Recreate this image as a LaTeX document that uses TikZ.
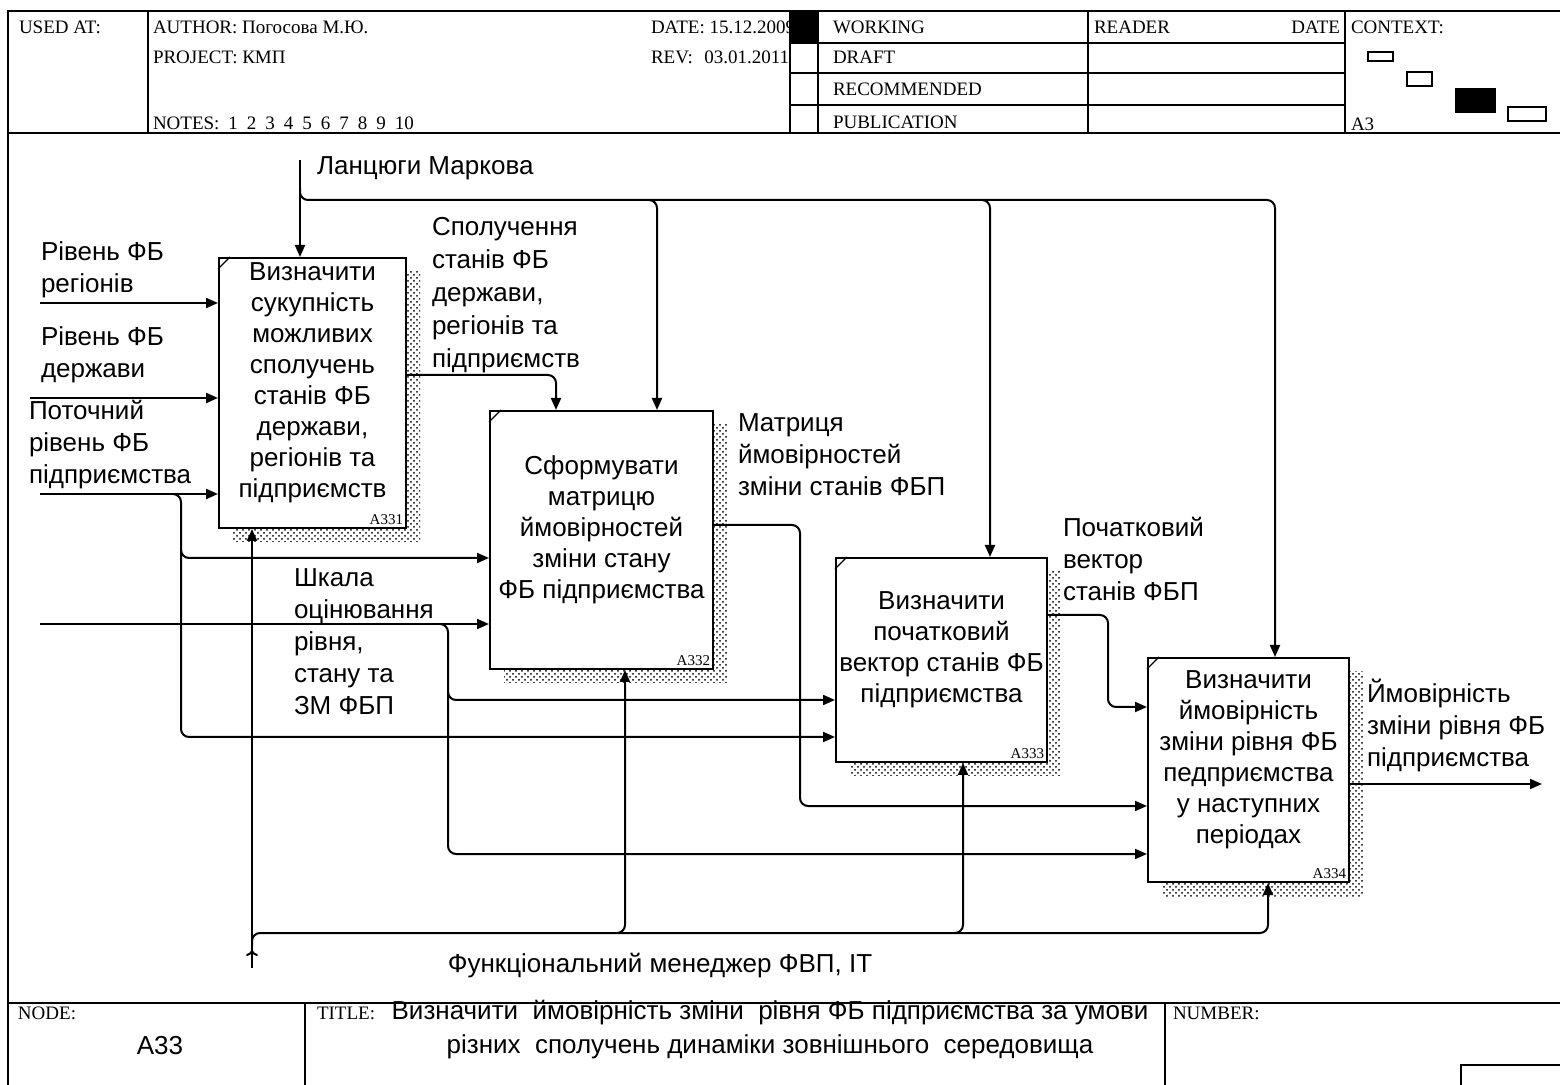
\documentclass[tikz,border=0pt]{standalone}
\usepackage{fontspec}
\setmainfont{Liberation Sans}
\newfontfamily\formfont{Liberation Serif}
\usepackage{tikz}
\usetikzlibrary{arrows.meta, positioning, shadows, patterns}

\tikzset{
	func/.style={draw, fill=white, inner sep=0pt, anchor=north west,
		general shadow={shadow xshift=7pt, shadow yshift=-7pt, pattern=crosshatch dots}},
	functext/.style={align=center, inner sep=0pt, font=\fontsize{13}{15.5}\selectfont},
	lbl/.style={align=left, anchor=north west, inner sep=0pt, font=\fontsize{13}{16}\selectfont},
	num/.style={anchor=south east, inner sep=1.5pt, font=\formfont\fontsize{7.5}{8}\selectfont},
	form/.style={anchor=west, inner sep=0pt, font=\formfont\fontsize{9.5}{10}\selectfont},
	arr/.style={->, rounded corners=4pt}
}

\begin{document}
\begin{tikzpicture}[x=0.5pt, y=-0.5pt, line width=1pt, >={Triangle[length=6pt,width=5pt]}]
\useasboundingbox (0,0) rectangle (1560,1085);
\fill[white] (0,0) rectangle (1560,1085);

% form
\draw (8,1085) -- (8,11) -- (1560,11);
\draw (8,133) -- (1560,133);
\draw (8,1003) -- (1560,1003);
\foreach \x in {148,790,818,1088,1345}
	\draw (\x,11) -- (\x,133);
\foreach \y in {43,73,105}
	\draw (790,\y) -- (1345,\y);
\foreach \x in {305,1165}
	\draw (\x,1003) -- (\x,1085);
\draw (1461,1085) |- (1560,1065);

\node[form]				(usedat)	at (18,27)		{USED AT:};
\node[form]				(author)	at (152,27)		{AUTHOR: Погосова М.Ю.};
\node[form]				(project)	at (152,57)		{PROJECT: КМП};
\node[form]				(notes)		at (152,123)	{\spaceskip=4.5pt NOTES: 1 2 3 4 5 6 7 8 9 10};
\node[form]				(date)		at (650,27)		{DATE: 15.12.2009};
\node[form]				(rev)		at (650,57)		{REV:\hspace{0.6em}03.01.2011};
\fill (790,11) rectangle (818,43);
\node[form]				(working)	at (832,27)		{WORKING};
\node[form]				(draft)		at (832,57)		{DRAFT};
\node[form]				(recomm)	at (832,89)		{RECOMMENDED};
\node[form]				(public)	at (832,122)	{PUBLICATION};
\node[form]				(reader)	at (1093,27)	{READER};
\node[form, anchor=east]	(rdate)		at (1341,27)	{DATE};
\node[form]				(context)	at (1350,27)	{CONTEXT:};
\node[form]				(ctxnode)	at (1350,124)	{A3};
\draw[line width=0.8pt] (1368,52) rectangle (1393,61);
\draw[line width=0.8pt] (1407,72) rectangle (1432,86);
\fill (1455,88) rectangle (1496,113);
\draw[line width=0.8pt] (1508,107) rectangle (1546,121);

\node[form]				(nodecell)	at (17,1013)	{NODE:};
\node[functext]			(nodeno)	at (160,1046)	{A33};
\node[form]				(titlecell)	at (316,1013)	{TITLE:};
\node[functext, font=\fontsize{13}{17}\selectfont]
						(title)		at (770,1030)
	{Визначити\ \ ймовірність зміни\ \ рівня ФБ підприємства за умови\\
	 різних\ \ сполучень динаміки зовнішнього\ \ середовища};
\node[form]				(numbercell) at (1172,1013)	{NUMBER:};

% functions
\node[func, minimum width=93.5pt, minimum height=135pt]			(a331) at (218,257) {};
\node[func, minimum width=111.5pt, minimum height=129pt,
	below right=76.5pt and 41pt of a331.north east]					(a332) {};
\node[func, minimum width=105.5pt, minimum height=102pt,
	below right=73.5pt and 60.5pt of a332.north east]				(a333) {};
\node[func, minimum width=100.5pt, minimum height=112pt,
	below right=50pt and 49.5pt of a333.north east]					(a334) {};

\node[functext] (t331) at ([yshift=5pt]a331.center)
	{Визначити\\сукупність\\можливих\\сполучень\\станів ФБ\\держави,\\регіонів та\\підприємств};
\node[functext] (t332) at ([yshift=5pt]a332.center)
	{Сформувати\\матрицю\\ймовірностей\\зміни стану\\ФБ підприємства};
\node[functext] (t333) at ([yshift=5pt]a333.center)
	{Визначити\\початковий\\вектор станів ФБ\\підприємства};
\node[functext] (t334) at ([yshift=5pt]a334.center)
	{Визначити\\ймовірність\\зміни рівня ФБ\\педприємства\\у наступних\\періодах};

\foreach \f/\n in {a331/A331, a332/A332, a333/A333, a334/A334} {
	\draw[line width=0.6pt] ([yshift=-6pt]\f.north west) -- ([xshift=6pt]\f.north west);
	\node[num] (\f-num) at (\f.south east) {\n};
}

% free ends
\coordinate (markov)	at (300,160);
\coordinate (rin1)		at (40,303);
\coordinate (rin2)		at (30,398);
\coordinate (rin3)		at (40,494);
\coordinate (scale)		at (40,624);
\coordinate (out)		at (1542,784);
\coordinate (mech)		at (252,968);
\coordinate (c2)		at (657,200);
\coordinate (c3)		at (990,200);
\coordinate (c4)		at (1275,200);
\coordinate (m4)		at (1268,933);

% controls
\draw[->]	(markov) -- (markov |- a331.north);
\draw[arr]	(300,188) |- (c4) -- (c4 |- a334.north);
\draw[arr]	(649,200) -| (c2 |- a332.north);
\draw[arr]	(982,200) -| (c3 |- a333.north);

% inputs
\draw[->]	(rin1) -- (rin1 -| a331.west);
\draw[->]	(rin2) -- (rin2 -| a331.west);
\draw[->]	(rin3) -- (rin3 -| a331.west);
\draw[arr]	(173,494) -| (181,737) -- (a333.west |- 0,737);
\draw[arr]	(181,550) |- (a332.west |- 0,558);
\draw[->]	(scale) -- (scale -| a332.west);
\draw[arr]	(440,624) -| (448,854) -- (a334.west |- 0,854);
\draw[arr]	(448,692) |- (a333.west |- 0,700);

% outputs
\draw[arr]	(a331.east |- 0,375) -| (556,0 |- a332.north);
\draw[arr]	(a332.east |- 0,525) -| (800,806) -- (a334.west |- 0,806);
\draw[arr]	(a333.east |- 0,615) -| (1108,707) -- (a334.west |- 0,707);
\draw[->]	(a334.east |- out) -- (out);

% mechanisms
\draw[->]	(mech) -- (mech |- a331.south);
\draw[-{To[length=3pt,width=6pt]}] (mech) -- ++(0,-18);
\draw[arr]	(252,946) |- (m4) -- (m4 |- a334.south);
\draw[arr]	(617,933) -| (625,0 |- a332.south);
\draw[arr]	(955,933) -| (963,0 |- a333.south);

% arrow labels
\node[lbl, anchor=west]	(lmarkov)	at (316,168)	{Ланцюги Маркова};
\node[lbl, font=\fontsize{13}{16.5}\selectfont]
						(lspol)		at (431,216)	{Сполучення\\станів ФБ\\держави,\\регіонів та\\підприємств};
\node[lbl]				(lreg)		at (40,241)		{Рівень ФБ\\регіонів};
\node[lbl]				(lderzh)	at (40,326)		{Рівень ФБ\\держави};
\node[lbl]				(lpot)		at (28,399)		{Поточний\\рівень ФБ\\підприємства};
\node[lbl]				(lscale)	at (293,568)	{Шкала\\оцінювання\\рівня,\\стану та\\ЗМ ФБП};
\node[lbl]				(lmatr)		at (737,413)	{Матриця\\ймовірностей\\зміни станів ФБП};
\node[lbl]				(lpoch)		at (1062,516)	{Початковий\\вектор\\станів ФБП};
\node[lbl]				(limov)		at (1366,678)	{Ймовірність\\зміни рівня ФБ\\підприємства};
\node[lbl, anchor=center] (lmech)	at (660,966)	{Функціональний менеджер ФВП, ІТ};
\end{tikzpicture}
\end{document}
